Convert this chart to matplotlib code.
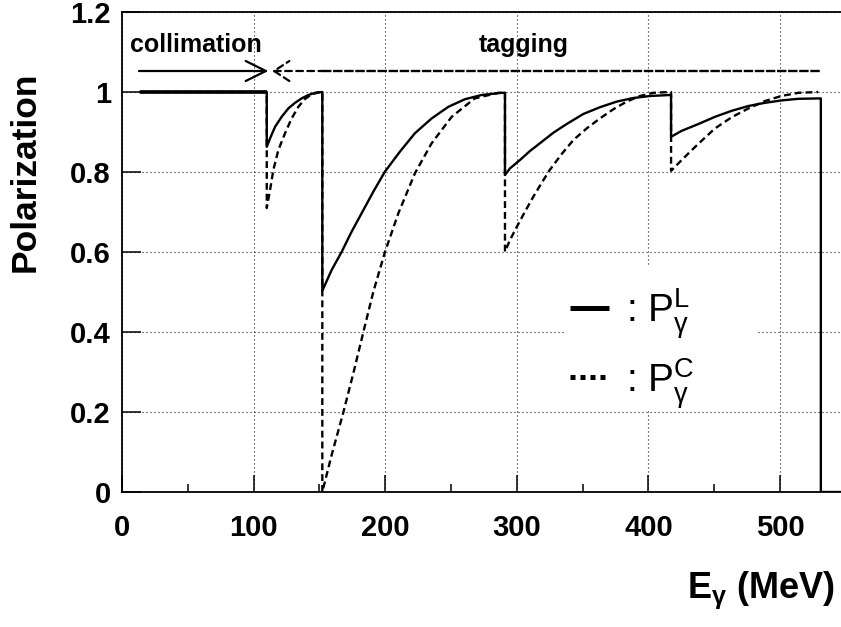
import matplotlib
matplotlib.use("Agg")
import matplotlib.pyplot as plt
from matplotlib.patches import Rectangle
from matplotlib.ticker import FuncFormatter

plt.rcParams['font.family'] = ['Liberation Sans', 'DejaVu Sans']

# photon energy (MeV) and polarization
energy_lin = [14, 110, 110, 112.5, 116.3, 121.3, 126.4, 131.5, 136.5, 141.6, 146.7, 151.7,
              152.2, 152.2, 159.3, 167, 174.5, 182.1, 191, 199.8, 211.2, 222.6, 235.3, 248,
              260.6, 273.3, 288.5, 291, 291, 294.8, 302.4, 310, 317.6, 327.7, 337.9, 350.5,
              363.2, 375.9, 388.5, 401.2, 416.4, 417.2, 417.2, 425.3, 438, 450.6, 463.3, 476,
              488.6, 501.3, 514, 530.4, 531, 531, 560]
pol_lin = [1.0, 1.0, 0.863, 0.884, 0.913, 0.938, 0.959, 0.973, 0.984, 0.9925, 0.998, 1.0,
           1.0, 0.503, 0.555, 0.601, 0.651, 0.697, 0.751, 0.801, 0.851, 0.897, 0.934, 0.963,
           0.982, 0.9925, 0.998, 0.998, 0.7925, 0.809, 0.83, 0.8525, 0.872, 0.898, 0.92, 0.945,
           0.962, 0.976, 0.985, 0.99, 0.9925, 0.9925, 0.888, 0.903, 0.92, 0.938, 0.953, 0.965,
           0.973, 0.979, 0.983, 0.984, 0.984, 0.0, 0.0]

energy_circ = [14, 110, 110, 112.5, 115, 118.8, 123.9, 128.9, 134, 139, 144.1, 149.2,
               152.2, 152.2, 159.3, 168, 175.8, 183.4, 191, 199.8, 210, 222.6, 235.3, 250.5,
               268, 286, 291, 291, 294.8, 300, 306.2, 312.5, 318.9, 325, 334.1, 343, 353.1,
               363.2, 373.4, 383.5, 393.6, 403.7, 416.4, 417.2, 417.2, 425.3, 433, 441.7,
               450.6, 463.3, 476, 488.6, 501, 514, 529]
pol_circ = [1.0, 1.0, 0.71, 0.755, 0.805, 0.855, 0.897, 0.934, 0.963, 0.9825, 0.994, 0.999,
            0.999, 0.0, 0.0925, 0.197, 0.297, 0.40, 0.501, 0.60, 0.697, 0.797, 0.872, 0.938,
            0.984, 0.998, 0.998, 0.601, 0.63, 0.663, 0.701, 0.738, 0.773, 0.805, 0.845, 0.88,
            0.909, 0.934, 0.957, 0.976, 0.99, 0.998, 1.0, 1.0, 0.803, 0.83, 0.855, 0.882,
            0.909, 0.937, 0.959, 0.9775, 0.99, 0.998, 1.0]

x_major = [0, 100, 200, 300, 400, 500]
x_minor = [50, 150, 250, 350, 450, 550]
y_major = [0, 0.2, 0.4, 0.6, 0.8, 1.0, 1.2]

fig = plt.figure(figsize=(8.41, 6.27), dpi=100)
ax = fig.add_axes([122 / 841, 135 / 627, 737 / 841, 480 / 627])
ax.set_xlim(0, 560)
ax.set_ylim(0, 1.2)

ax.set_xticks(x_major)
ax.set_xticks(x_minor, minor=True)
ax.set_yticks(y_major)
ax.yaxis.set_major_formatter(FuncFormatter(lambda v, p: f"{v:g}"))
ax.tick_params(which='both', direction='in', top=False, right=False, width=1.1)
ax.tick_params(axis='x', which='major', length=12, pad=16, labelsize=21)
ax.tick_params(axis='x', which='minor', length=6)
ax.tick_params(axis='y', which='major', length=13.5, pad=8, labelsize=21)
for lab in ax.get_xticklabels() + ax.get_yticklabels():
    lab.set_fontweight('bold')
for sp in ax.spines.values():
    sp.set_linewidth(1.3)

ax.set_axisbelow(True)
ax.grid(True, which='major', color='0.1', linewidth=0.8, linestyle=(0, (1, 2.6)))

# white box behind the legend
ax.add_patch(Rectangle((336.6, 0.205), 146.7, 0.3625, facecolor='white', edgecolor='none', zorder=1.5))

ax.plot(energy_circ, pol_circ, color='black', linewidth=1.7, linestyle=(0, (2.9, 1.7)), zorder=3)
ax.plot(energy_lin, pol_lin, color='black', linewidth=1.7, zorder=4)
# both curves sit on top of each other below 110 MeV -> looks heavier
ax.plot(energy_lin[:2], pol_lin[:2], color='black', linewidth=2.6, solid_capstyle='butt', zorder=4)

# legend
ax.plot([340.4, 370], [0.46, 0.46], color='black', linewidth=3.6, solid_capstyle='butt', zorder=3)
ax.plot([340.4, 368], [0.2875, 0.2875], color='black', linewidth=3.6, linestyle=(0, (1, 1)),
        dash_capstyle='butt', zorder=3)
ax.text(383, 0.425, r": $\mathregular{P_{γ}^{L}}$", fontsize=28, va='baseline', zorder=5)
ax.text(383, 0.25, r": $\mathregular{P_{γ}^{C}}$", fontsize=28, va='baseline', zorder=5)

# collimation / tagging arrows
arrow_y = 1.0525
ax.annotate('', xy=(111.2, arrow_y), xytext=(12.9, arrow_y),
            arrowprops=dict(arrowstyle='->,head_length=1.45,head_width=0.72', lw=1.6, color='black',
                            shrinkA=0, shrinkB=0))
ax.annotate('', xy=(152, arrow_y), xytext=(114, arrow_y),
            arrowprops=dict(arrowstyle='<-,head_length=1.1,head_width=0.72', lw=1.6, color='black',
                            linestyle=(0, (3, 2)), shrinkA=0, shrinkB=0))
ax.plot([152, 531], [arrow_y, arrow_y], color='black', linewidth=1.7, linestyle=(0, (4, 0.7)))
ax.text(56, 1.1, 'collimation', fontsize=18, fontweight='bold', ha='center', va='baseline')
ax.text(305, 1.1, 'tagging', fontsize=18, fontweight='bold', ha='center', va='baseline')

fig.text(835 / 841, 29 / 627, r"$\mathregular{E_{γ}}$ (MeV)", fontsize=26, fontweight='bold',
         ha='right', va='baseline')
fig.text(42 / 841, (627 - 72) / 627, 'Polarization', fontsize=25.5, fontweight='bold',
         rotation=90, ha='right', va='top')

fig.savefig('out.png', dpi=100)
